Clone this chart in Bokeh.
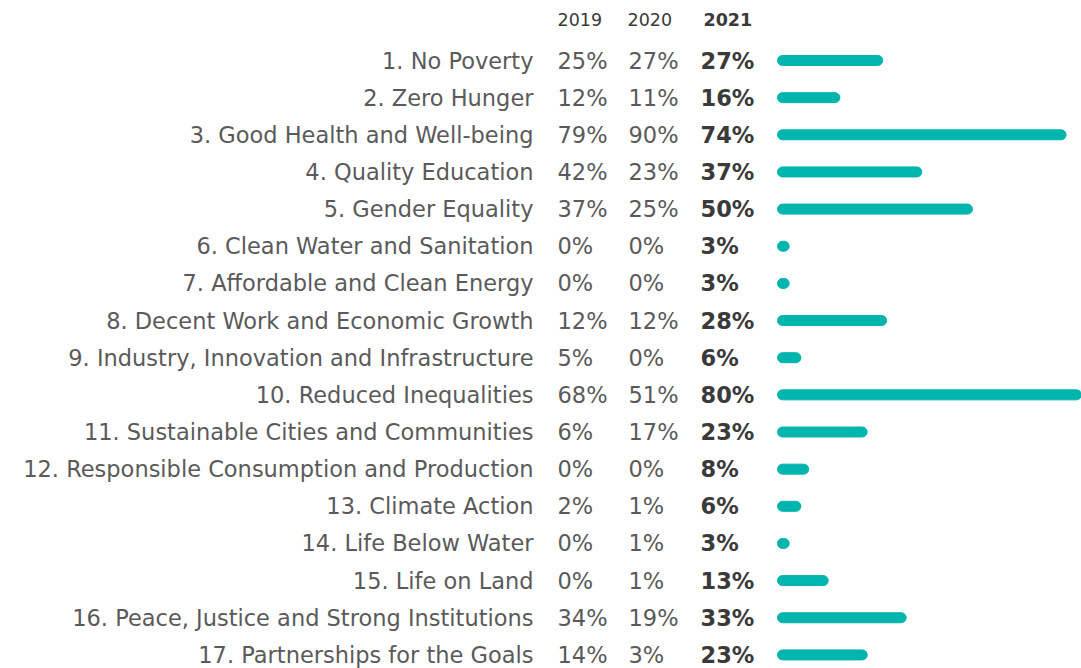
from bokeh.plotting import figure
from bokeh.models import Range1d, ColumnDataSource
from bokeh.embed import file_html
from bokeh.resources import INLINE
from bokeh.core.properties import value

goals = [
    "1. No Poverty", "2. Zero Hunger", "3. Good Health and Well-being",
    "4. Quality Education", "5. Gender Equality", "6. Clean Water and Sanitation",
    "7. Affordable and Clean Energy", "8. Decent Work and Economic Growth",
    "9. Industry, Innovation and Infrastructure", "10. Reduced Inequalities",
    "11. Sustainable Cities and Communities", "12. Responsible Consumption and Production",
    "13. Climate Action", "14. Life Below Water", "15. Life on Land",
    "16. Peace, Justice and Strong Institutions", "17. Partnerships for the Goals",
]
v2019 = [25, 12, 79, 42, 37, 0, 0, 12, 5, 68, 6, 0, 2, 0, 0, 34, 14]
v2020 = [27, 11, 90, 23, 25, 0, 0, 12, 0, 51, 17, 0, 1, 1, 1, 19, 3]
v2021 = [27, 16, 74, 37, 50, 3, 3, 28, 6, 80, 23, 8, 6, 3, 13, 33, 23]
years = ["2019", "2020", "2021"]

W, H = 1081, 668
px_per_unit = 3.9
x0_px = 777
row0_px = 60
row_step = 37.15

rows = list(range(len(goals)))
src = ColumnDataSource(dict(
    y=rows, goal=goals,
    t2019=[f"{v}%" for v in v2019],
    t2020=[f"{v}%" for v in v2020],
    t2021=[f"{v}%" for v in v2021],
    v2021=v2021,
    zero=[0] * len(goals),
))

p = figure(width=W, height=H, output_backend="svg", toolbar_location=None,
           x_range=Range1d(-x0_px / px_per_unit, (W - x0_px) / px_per_unit),
           y_range=Range1d((H - row0_px) / row_step, -row0_px / row_step),
           min_border=0, outline_line_color=None)
p.axis.visible = False
p.grid.visible = False
p.background_fill_color = "white"
p.border_fill_color = "white"

font = value("DejaVu Sans")
grey = "#5a5a5a"
dark = "#3a3a3a"
teal = "#00b5ad"

p.hbar(y="y", left="zero", right="v2021", height=10 / row_step, source=src,
       color=teal, border_radius=5)

fs = "22.5px"
p.text(x=0, y="y", text="goal", source=src, x_offset=-244, text_align="right",
       text_baseline="middle", text_font=font, text_font_size=fs, text_color=grey)
p.text(x=0, y="y", text="t2019", source=src, x_offset=-220, text_align="left",
       text_baseline="middle", text_font=font, text_font_size=fs, text_color=grey)
p.text(x=0, y="y", text="t2020", source=src, x_offset=-149, text_align="left",
       text_baseline="middle", text_font=font, text_font_size=fs, text_color=grey)
p.text(x=0, y="y", text="t2021", source=src, x_offset=-77, text_align="left",
       text_baseline="middle", text_font=font, text_font_size=fs,
       text_font_style="bold", text_color=dark)

hy = (19 - row0_px) / row_step
p.text(x=[0, 0], y=[hy, hy], text=years[:2], x_offset=[-220, -150], text_align="left",
       text_baseline="middle", text_font=font, text_font_size="17.5px", text_color=dark)
p.text(x=[0], y=[hy], text=years[2:], x_offset=[-74], text_align="left",
       text_baseline="middle", text_font=font, text_font_size="17.5px",
       text_font_style="bold", text_color=dark)

open("out.html", "w").write(file_html(p, INLINE))
